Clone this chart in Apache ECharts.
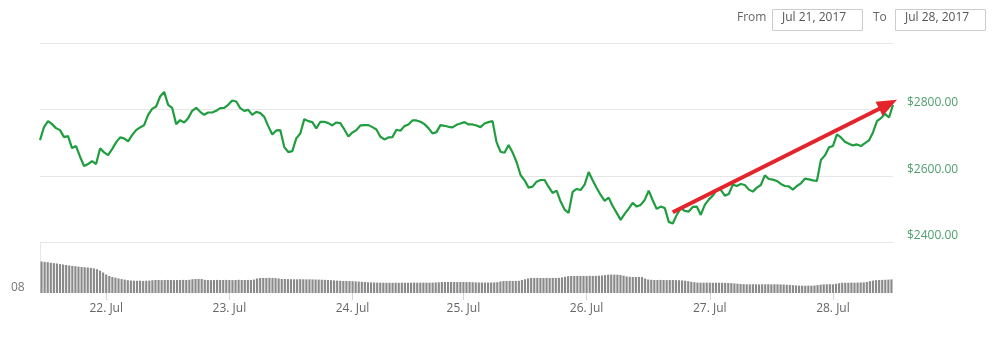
<!DOCTYPE html>
<html>
<head>
<meta charset="utf-8">
<script src="https://cdn.jsdelivr.net/npm/echarts@6/dist/echarts.min.js"></script>
<style>
html,body{margin:0;padding:0;background:#fff;}
#chart{width:1000px;height:343px;}
</style>
</head>
<body>
<div id="chart"></div>
<script>
// Price (USD), ordinal samples from Jul 21 ~11:00 to Jul 28 ~08:00
const priceValues = [
  2708,2747,2765,2756,2744,2738,2717,2720,2684,2690,
  2658,2630,2636,2645,2636,2683,2671,2663,2681,2701,
  2716,2713,2704,2723,2738,2746,2753,2784,2802,2809,
  2839,2853,2814,2805,2756,2768,2761,2774,2796,2805,
  2793,2784,2791,2791,2796,2804,2805,2814,2827,2824,
  2804,2796,2799,2784,2793,2789,2778,2750,2725,2737,
  2738,2687,2672,2675,2713,2728,2771,2765,2762,2743,
  2763,2763,2759,2752,2761,2759,2740,2719,2731,2738,
  2752,2753,2753,2747,2740,2718,2710,2716,2717,2739,
  2736,2750,2755,2767,2767,2763,2756,2744,2728,2732,
  2753,2751,2748,2746,2754,2758,2762,2755,2755,2752,
  2747,2758,2762,2765,2702,2673,2670,2693,2671,2642,
  2603,2587,2565,2568,2583,2588,2588,2567,2549,2556,
  2523,2499,2489,2552,2561,2558,2574,2612,2587,2564,
  2543,2525,2535,2510,2489,2468,2486,2502,2519,2508,
  2513,2528,2556,2527,2501,2508,2504,2462,2457,2483,
  2503,2495,2493,2507,2508,2483,2513,2529,2541,2559,
  2558,2541,2546,2574,2570,2576,2573,2559,2553,2565,
  2573,2602,2591,2589,2585,2576,2570,2569,2559,2570,
  2578,2592,2590,2587,2585,2648,2662,2686,2690,2725,
  2716,2703,2697,2692,2695,2690,2699,2707,2731,2765,
  2774,2787,2776,2814
];

// Volume (relative units), one bar per ordinal period
const volumeValues = [
  31.5,31.2,30.8,30.3,29.9,29.5,28.9,28.5,28,27.5,
  27.1,26.8,26.4,26,25.8,25.5,25.1,24.6,23.8,22.4,
  20.5,18.5,17,16,15.3,14.6,13.9,13.4,12.8,12.5,
  12.3,12.2,12.3,12.1,12.3,12.4,12.8,13,13,12.9,
  13,13.1,13,12.9,13,13,13.1,13,13.2,13.8,
  14,14.1,14,13.2,13,12.9,13,13.1,13,13,
  13.1,13,12.9,13,13.2,13,13,13.1,13,13.4,
  14.5,15,15.1,15,15.2,15,14.9,14.5,14,14,
  13.9,13.8,13.7,13.7,13.8,13.7,13.6,13.7,13.6,13.5,
  13.4,13.3,13.2,13,12.8,12.6,12.4,12.2,12,12,
  11.9,11.8,11.6,11.4,11.2,11,10.8,10.6,10.5,10.4,
  10.3,10.3,10.2,10.3,10.2,10.3,10.2,10.3,10.3,10.2,
  10.3,10.4,10.3,10.3,10.4,10.3,10.3,10.4,10.5,10.7,
  11,11,11.1,11,11,10.9,11,11,10.9,11,
  10.8,10.6,10.5,10.5,10.4,10.5,10.5,10.6,10.8,11.5,
  12,12,12.1,12,12.1,12.2,13,13.7,14.5,15,
  15,15.1,15,15,15.1,15,15.1,15,15.2,15.6,
  16.2,16.8,17,17,17.1,17,17.1,17,17.2,17.1,
  17.2,17.3,17.5,17.9,18.3,18.4,18.4,18.3,18,17.3,
  16.5,16.2,16,16,16.1,15.9,14.5,13.5,13.2,13,
  13,13.1,13,12.9,13,13,12.9,12.8,12.6,12.3,
  11.8,11.2,10.8,10.4,10.3,10.3,10.4,10.3,10.2,10.3,
  10.3,10.2,10.1,10,9.8,9.6,9.3,9,8.8,8.7,
  8.7,8.8,8.7,8.6,8.7,8.7,8.8,8.6,8.7,8.7,
  8.6,8.5,8.3,8.1,7.8,7.6,7.4,7.3,7.3,7.4,
  7.3,7.5,7.9,8.3,8.6,8.7,8.8,8.7,9.2,9.8,
  10.2,10.3,10.3,10.4,10.3,10.4,10.5,10.6,11,11.8,
  12.4,12.8,13,13.1,13.2,13.4,13.6
];

const dayLabels = ['22. Jul','23. Jul','24. Jul','25. Jul','26. Jul','27. Jul','28. Jul'];
const dayStartBar = [21, 61, 101, 137, 177, 217, 257];
const priceMin = 2400, priceMax = 3000, priceStep = 200;
const rangeFrom = 'Jul 21, 2017';
const rangeTo = 'Jul 28, 2017';
const volumeAxisLabel = '08';
// annotation arrow, in data terms [price index, price]
const arrowStart = [158, 2491];
const arrowEnd = [213.9, 2829];

const priceCats = priceValues.map((v, i) => i);
const volumeCats = volumeValues.map((v, i) => {
  const k = dayStartBar.indexOf(i);
  return k >= 0 ? dayLabels[k] : '';
});

const FONT = '"Open Sans", "DejaVu Sans", sans-serif';
const chart = echarts.init(document.getElementById('chart'), null, {renderer: 'canvas'});

const option = {
  backgroundColor: '#ffffff',
  animation: false,
  grid: [
    {left: 40, right: 107, top: 43, height: 199.5},
    {left: 40, right: 107, top: 243, height: 50}
  ],
  xAxis: [
    {type: 'category', gridIndex: 0, data: priceCats, boundaryGap: false,
     axisLine: {show: false}, axisTick: {show: false}, axisLabel: {show: false}, splitLine: {show: false}},
    {type: 'category', gridIndex: 1, data: volumeCats, boundaryGap: true,
     axisLine: {show: false},
     axisTick: {show: true, length: 7, alignWithLabel: true, lineStyle: {color: '#ccd6eb'},
                interval: (i) => dayStartBar.indexOf(i) >= 0},
     axisLabel: {interval: 0, color: '#666', fontFamily: FONT, fontSize: 12, margin: 10},
     splitLine: {show: false}}
  ],
  yAxis: [
    {type: 'value', gridIndex: 0, position: 'right', min: priceMin, max: priceMax, interval: priceStep,
     axisLine: {show: false}, axisTick: {show: false},
     splitLine: {show: true, lineStyle: {color: '#e6e6e6', width: 1}},
     axisLabel: {margin: 14, color: '#4f9e6e', fontFamily: FONT, fontSize: 12,
                 verticalAlign: 'bottom', lineHeight: 13, padding: 0,
                 formatter: (v) => v >= priceMax ? '' : '$' + v.toFixed(2)}},
    {type: 'value', gridIndex: 1, position: 'left', min: 0, max: 50,
     axisLine: {show: true, lineStyle: {color: '#e6e6e6', width: 1}},
     axisTick: {show: false}, axisLabel: {show: false}, splitLine: {show: false}}
  ],
  series: [
    {type: 'line', xAxisIndex: 0, yAxisIndex: 0, data: priceValues, showSymbol: false,
     lineStyle: {color: '#1f9d3f', width: 2.2}, itemStyle: {color: '#1f9d3f'}},
    {type: 'bar', xAxisIndex: 1, yAxisIndex: 1, data: volumeValues, barCategoryGap: '30%',
     itemStyle: {color: '#8a8a8a'}}
  ],
  graphic: [
    {type: 'text', left: 737, top: 12, style: {text: 'From', font: '12px ' + FONT, fill: '#666'}},
    {type: 'rect', shape: {x: 772.5, y: 9.5, width: 90, height: 21},
     style: {fill: '#fff', stroke: '#cccccc', lineWidth: 1}},
    {type: 'text', left: 782, top: 12, style: {text: rangeFrom, font: '12px ' + FONT, fill: '#555'}},
    {type: 'text', left: 873, top: 12, style: {text: 'To', font: '12px ' + FONT, fill: '#666'}},
    {type: 'rect', shape: {x: 895.5, y: 9.5, width: 90, height: 21},
     style: {fill: '#fff', stroke: '#cccccc', lineWidth: 1}},
    {type: 'text', left: 905, top: 12, style: {text: rangeTo, font: '12px ' + FONT, fill: '#555'}},
    {type: 'text', left: 11, top: 282, style: {text: volumeAxisLabel, font: '12px ' + FONT, fill: '#777'}}
  ]
};
chart.setOption(option);

// arrow annotation, positioned through the price axes
const p1 = chart.convertToPixel({xAxisIndex: 0, yAxisIndex: 0}, arrowStart);
const p2 = chart.convertToPixel({xAxisIndex: 0, yAxisIndex: 0}, arrowEnd);
const dx = p2[0] - p1[0], dy = p2[1] - p1[1];
const len = Math.sqrt(dx * dx + dy * dy);
const ux = dx / len, uy = dy / len;
const headLen = 20, headHalf = 8;
const bx = p2[0] - ux * headLen, by = p2[1] - uy * headLen;
chart.setOption({
  graphic: [
    {id: 'arrowShaft', type: 'line', z: 100,
     shape: {x1: p1[0], y1: p1[1], x2: bx + ux * 2, y2: by + uy * 2},
     style: {stroke: '#e3242b', lineWidth: 4, lineCap: 'butt'}},
    {id: 'arrowHead', type: 'polygon', z: 100,
     shape: {points: [[p2[0], p2[1]], [bx - uy * headHalf, by + ux * headHalf], [bx + uy * headHalf, by - ux * headHalf]]},
     style: {fill: '#e3242b'}}
  ]
});
</script>
</body>
</html>
